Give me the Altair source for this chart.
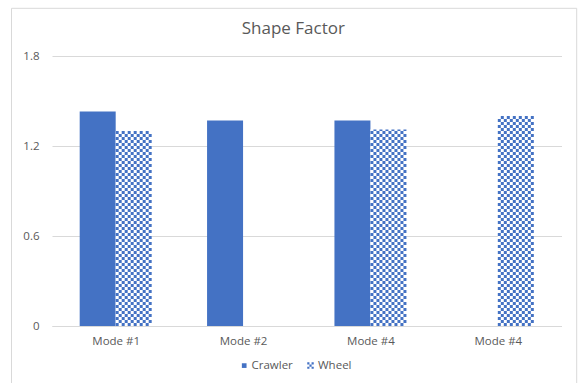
import json
import altair as alt
import numpy as np
import pandas as pd

# ---- chart data -------------------------------------------------------------
categories = ["Mode #1", "Mode #2", "Mode #4", "Mode #4"]
crawler = [1.43, 1.37, 1.37, None]
wheel = [1.30, None, 1.31, 1.40]
y_ticks = [0, 0.6, 1.2, 1.8]
series_names = ["Crawler", "Wheel"]
title_text = "Shape Factor"

# ---- styling ----------------------------------------------------------------
BLUE = "#4472C4"
TEXT = "#595959"
GRID = "#D9D9D9"
FONT = "Open Sans"
W, H = 509.5, 270          # plot area in pixels
Y_MAX = 1.8
N_SLOTS = len(categories)
PX_PER_X = W / N_SLOTS
BAR_W = 36 / PX_PER_X      # each bar is 36 px wide
N_COLS = 12                # checker columns across one bar
CELL_X = BAR_W / N_COLS
CELL_Y = 3 * Y_MAX / H     # 3 px checker rows

slots = np.arange(N_SLOTS) + 0.5

crawler_df = pd.DataFrame({"slot": slots, "value": crawler}).dropna()
crawler_df["x0"] = crawler_df["slot"] - BAR_W
crawler_df["x1"] = crawler_df["slot"]

wheel_df = pd.DataFrame({"slot": slots, "value": wheel}).dropna()
wheel_df["x0"] = wheel_df["slot"]
wheel_df["x1"] = wheel_df["slot"] + BAR_W

# checkerboard cells that fill each Wheel bar
cells = []
for s, v in zip(wheel_df["slot"], wheel_df["value"]):
    n_rows = int(np.ceil(v / CELL_Y - 1e-9))
    for r in range(n_rows):
        for c in range(N_COLS):
            if (r + c) % 2 == 0:
                cells.append({
                    "x0": s + c * CELL_X,
                    "x1": s + (c + 1) * CELL_X,
                    "value": r * CELL_Y,
                    "y1": min((r + 1) * CELL_Y, v),
                })
cells_df = pd.DataFrame(cells)

x_scale = alt.Scale(domain=[0, N_SLOTS], nice=False, zero=False)
y_scale = alt.Scale(domain=[0, Y_MAX], nice=False)

label_expr = json.dumps(categories) + "[floor(datum.value)]"

x_axis = alt.Axis(
    values=list(slots),
    labelExpr=label_expr,
    title=None,
    ticks=False,
    tickSize=0,
    grid=False,
    domainColor=GRID,
    domainWidth=1,
    labelColor=TEXT,
    labelFont=FONT,
    labelFontSize=11.5,
    labelPadding=15,
    labelBaseline="middle",
)
y_axis = alt.Axis(
    values=y_ticks,
    format="~g",
    title=None,
    ticks=False,
    domain=False,
    grid=True,
    gridColor=GRID,
    gridWidth=1,
    labelColor=TEXT,
    labelFont=FONT,
    labelFontSize=11.5,
    labelPadding=13,
)

X = alt.X("x0:Q", scale=x_scale, axis=x_axis)
Y = alt.Y("value:Q", scale=y_scale, axis=y_axis)

crawler_bars = alt.Chart(crawler_df).mark_rect(color=BLUE).encode(
    x=X, x2="x1:Q", y=Y, y2=alt.datum(0)
)

wheel_back = alt.Chart(wheel_df).mark_rect(color="white").encode(
    x=X, x2="x1:Q", y=Y, y2=alt.datum(0)
)

wheel_cells = alt.Chart(cells_df).mark_rect(color=BLUE).encode(
    x=X, x2="x1:Q", y=Y, y2="y1:Q"
)

# ---- title, legend and frame --------------------------------------------------
one = pd.DataFrame({"t": [title_text]})
title = alt.Chart(one).mark_text(
    font=FONT, fontSize=17, color=TEXT, align="center", baseline="alphabetic"
).encode(x=alt.value(241.3), y=alt.value(-22), text="t:N")

leg_df = pd.DataFrame({"name": series_names})
crawler_key = alt.Chart(leg_df.iloc[[0]]).mark_point(
    shape="square", filled=True, color=BLUE, size=22, opacity=1
).encode(x=alt.value(192.2), y=alt.value(309.6))
wheel_key = alt.Chart(leg_df.iloc[[1]]).mark_point(
    shape=("M-1,-1h0.67v0.67h-0.67z M0.33,-1h0.67v0.67h-0.67z "
           "M-0.33,-0.33h0.67v0.67h-0.67z M-1,0.33h0.67v0.67h-0.67z "
           "M0.33,0.33h0.67v0.67h-0.67z"),
    filled=True, color=BLUE, size=42, opacity=1,
).encode(x=alt.value(258.5), y=alt.value(309.6))
crawler_label = alt.Chart(leg_df.iloc[[0]]).mark_text(
    font=FONT, fontSize=11.5, color=TEXT, align="left", baseline="middle"
).encode(x=alt.value(199.5), y=alt.value(309.8), text="name:N")
wheel_label = alt.Chart(leg_df.iloc[[1]]).mark_text(
    font=FONT, fontSize=11.5, color=TEXT, align="left", baseline="middle"
).encode(x=alt.value(266), y=alt.value(309.8), text="name:N")

frame = alt.Chart(one).mark_rect(
    fillOpacity=0, stroke=GRID, strokeWidth=1
).encode(
    x=alt.value(-40.5), x2=alt.value(524.7), y=alt.value(-47.7), y2=alt.value(340)
)

chart = (
    alt.layer(
        crawler_bars, wheel_back, wheel_cells, frame,
        title, crawler_key, wheel_key, crawler_label, wheel_label,
    )
    .properties(
        width=W,
        height=H,
        padding={"left": 52, "top": 56, "right": 17.5, "bottom": 57},
        autosize=alt.AutoSizeParams(type="none"),
        background="white",
    )
    .configure_view(stroke=None)
)

chart.save("out.html", embed_options={"renderer": "svg", "actions": False})
